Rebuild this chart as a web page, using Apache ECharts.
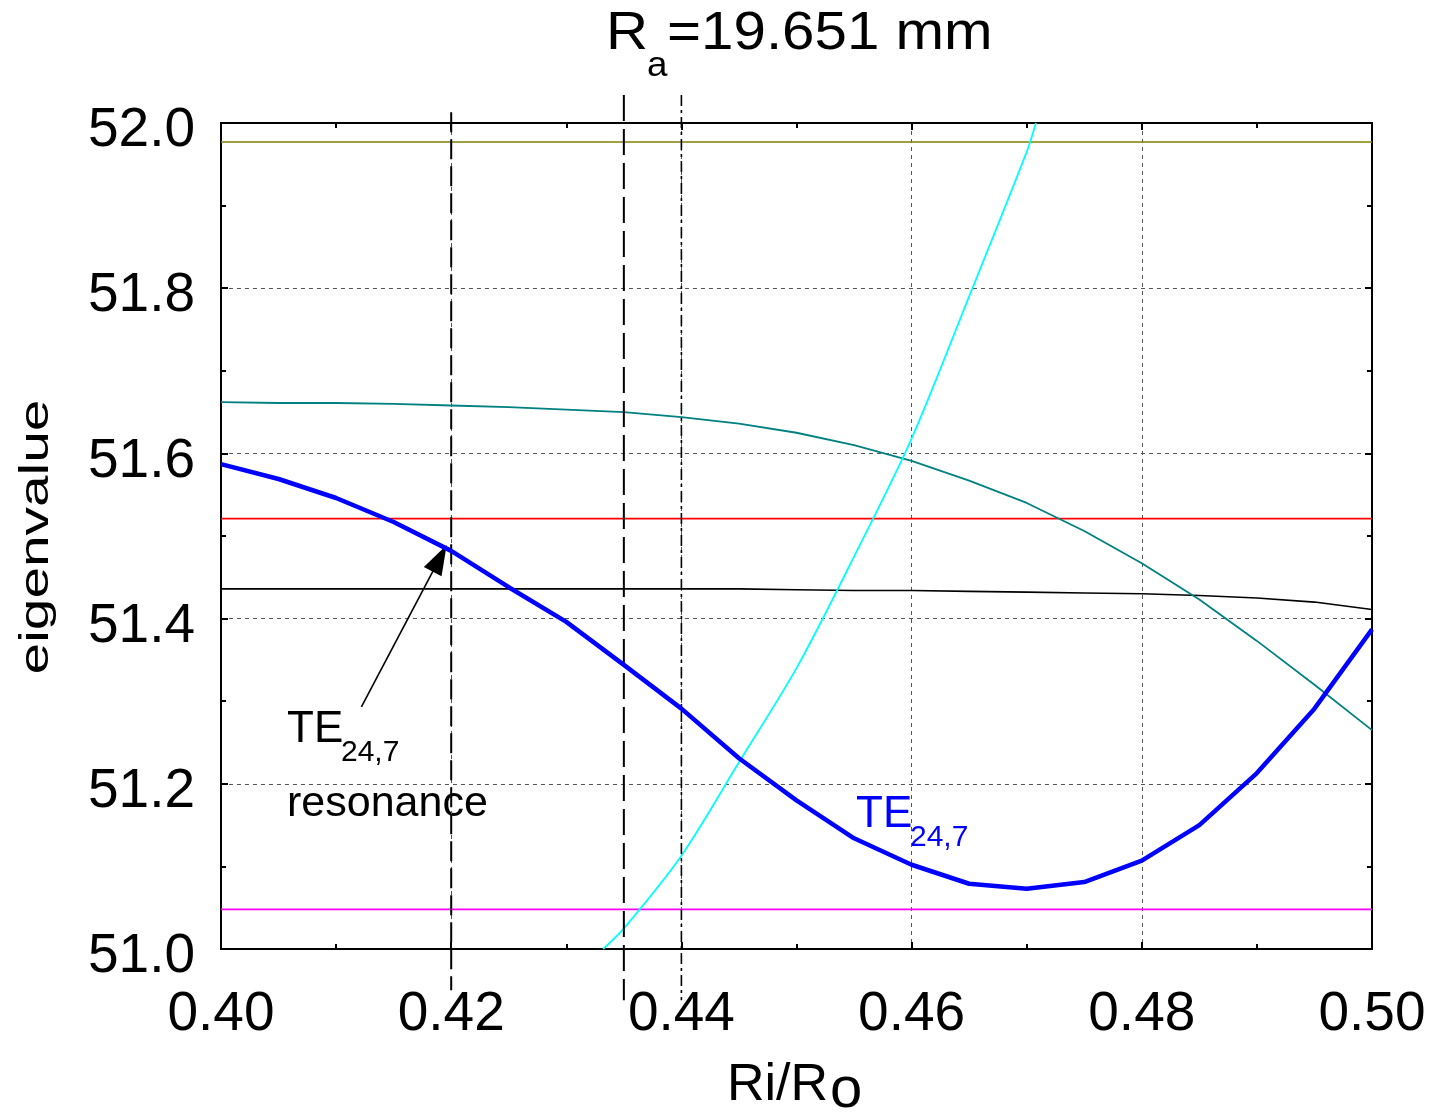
<!DOCTYPE html>
<html>
<head>
<meta charset="utf-8">
<script src="https://cdn.jsdelivr.net/npm/echarts@6/dist/echarts.min.js"></script>
<style>
html,body{margin:0;padding:0;background:#fff;}
#chart{width:1435px;height:1114px;}
</style>
</head>
<body>
<div id="chart"></div>
<script>
// ---- data ----
const xs = [0.400,0.405,0.410,0.415,0.420,0.425,0.430,0.435,0.440,0.445,0.450,0.455,0.460,0.465,0.470,0.475,0.480,0.485,0.490,0.495,0.500];
const blueTE = [51.587,51.569,51.546,51.517,51.482,51.438,51.396,51.344,51.291,51.231,51.180,51.134,51.102,51.079,51.073,51.081,51.107,51.150,51.213,51.291,51.387];
const tealMode = [51.662,51.661,51.661,51.660,51.658,51.656,51.653,51.650,51.644,51.636,51.625,51.610,51.591,51.567,51.540,51.506,51.467,51.423,51.373,51.320,51.265];
const blackMode = [51.436,51.436,51.436,51.436,51.436,51.436,51.436,51.436,51.436,51.436,51.435,51.434,51.434,51.433,51.432,51.431,51.430,51.428,51.425,51.420,51.411];
const cyanX = [0.4332,0.435,0.440,0.445,0.450,0.455,0.460,0.465,0.470,0.4708];
const cyanY = [51.000,51.025,51.113,51.226,51.340,51.475,51.618,51.790,51.965,52.000];
const oliveLevel = 51.977;
const redLevel = 51.521;
const magentaLevel = 51.048;
const markerX = [0.42, 0.435, 0.44];
const markerTop = [52.013, 52.034, 52.034];
const markerBottom = [50.950, 50.938, 50.938];
const arrowFrom = [0.4122, 51.293];
const arrowTo = [0.4190, 51.473];
const xMin = 0.40, xMax = 0.50, xStep = 0.02;
const yMin = 51.0, yMax = 52.0, yStep = 0.2;

const FONT = '"Liberation Sans", Arial, Helvetica, sans-serif';
const chart = echarts.init(document.getElementById('chart'), null, {renderer:'canvas'});

function pairs(xa, ya){ return xa.map((x,i)=>[x, ya[i]]); }
function level(v){ return [[xMin, v],[xMax, v]]; }

const markerStyles = [
  {type:[20,7], width:2},
  {type:[26,8], width:2},
  {type:[11,4,3,4], width:1.6}
];

const series = [];
series.push({type:'line', data:level(oliveLevel), symbol:'none', lineStyle:{color:'#808000', width:1.6}, silent:true, z:2});
series.push({type:'line', data:level(redLevel), symbol:'none', lineStyle:{color:'#ff0000', width:1.6}, silent:true, z:2});
series.push({type:'line', data:level(magentaLevel), symbol:'none', lineStyle:{color:'#ff00ff', width:1.6}, silent:true, z:2});
series.push({type:'line', data:pairs(xs, blackMode), symbol:'none', lineStyle:{color:'#000000', width:1.6}, silent:true, z:3});
series.push({type:'line', data:pairs(xs, tealMode), symbol:'none', lineStyle:{color:'#008080', width:1.8}, silent:true, z:3});
series.push({type:'line', data:pairs(cyanX, cyanY), symbol:'none', smooth:0.3, lineStyle:{color:'#00ffff', width:1.8}, silent:true, z:3});
markerX.forEach((x,i)=>{
  series.push({type:'line', data:[[x, markerTop[i]],[x, markerBottom[i]]], symbol:'none', clip:false,
    lineStyle:{color:'#000', width:markerStyles[i].width, type:markerStyles[i].type}, silent:true, z:4});
});
series.push({type:'line', data:pairs(xs, blueTE), symbol:'none', lineStyle:{color:'#0000ff', width:4.5}, silent:true, z:6,
  markLine:{silent:true, symbol:['none','triangle'], symbolSize:[20,30], label:{show:false},
    lineStyle:{color:'#000', width:1.6, type:'solid'},
    data:[[{coord:arrowFrom},{coord:arrowTo}]]}
});

const tickLabel = {color:'#000', fontSize:55, fontFamily:FONT};
const option = {
  animation:false,
  backgroundColor:'#fff',
  grid:{left:221, right:63, top:123, bottom:165, show:true, borderColor:'#000', borderWidth:2, backgroundColor:'transparent'},
  xAxis:[{
    type:'value', min:xMin, max:xMax, interval:xStep, position:'bottom',
    axisLine:{show:true, lineStyle:{color:'#000', width:2}},
    axisTick:{show:true, inside:true, length:7, lineStyle:{color:'#000', width:2}},
    minorTick:{show:true, splitNumber:2, length:5, lineStyle:{color:'#000', width:2}},
    axisLabel:Object.assign({margin:38, formatter:v=>v.toFixed(2)}, tickLabel),
    splitLine:{show:true, lineStyle:{color:'#555', width:1, type:[4,4]}}
  },{
    type:'value', min:xMin, max:xMax, interval:xStep, position:'top',
    axisLine:{show:true, lineStyle:{color:'#000', width:2}},
    axisTick:{show:true, inside:true, length:7, lineStyle:{color:'#000', width:2}},
    minorTick:{show:true, splitNumber:2, length:5, lineStyle:{color:'#000', width:2}},
    axisLabel:{show:false}, splitLine:{show:false}
  }],
  yAxis:[{
    type:'value', min:yMin, max:yMax, interval:yStep, position:'left',
    axisLine:{show:true, lineStyle:{color:'#000', width:2}},
    axisTick:{show:true, inside:true, length:7, lineStyle:{color:'#000', width:2}},
    minorTick:{show:true, splitNumber:2, length:5, lineStyle:{color:'#000', width:2}},
    axisLabel:Object.assign({margin:26, verticalAlign:'top', lineHeight:16, formatter:v=>v.toFixed(1)}, tickLabel),
    splitLine:{show:true, lineStyle:{color:'#555', width:1, type:[4,4]}}
  },{
    type:'value', min:yMin, max:yMax, interval:yStep, position:'right',
    axisLine:{show:true, lineStyle:{color:'#000', width:2}},
    axisTick:{show:true, inside:true, length:7, lineStyle:{color:'#000', width:2}},
    minorTick:{show:true, splitNumber:2, length:5, lineStyle:{color:'#000', width:2}},
    axisLabel:{show:false}, splitLine:{show:false}
  }],
  series:series,
  graphic:[
    // title
    {type:'text', x:606, y:34, scaleX:1.1, style:{text:'R', fontSize:53, fontFamily:FONT, fill:'#000', textAlign:'left', textVerticalAlign:'middle'}},
    {type:'text', x:647, y:66, scaleX:1.05, style:{text:'a', fontSize:35, fontFamily:FONT, fill:'#000', textAlign:'left', textVerticalAlign:'middle'}},
    {type:'text', x:667, y:34, scaleX:1.1, style:{text:'=19.651 mm', fontSize:53, fontFamily:FONT, fill:'#000', textAlign:'left', textVerticalAlign:'middle'}},
    // y axis name
    {type:'text', x:37, y:537, rotation:Math.PI/2, scaleX:1.42, style:{text:'eigenvalue', fontSize:40, fontFamily:FONT, fill:'#000', textAlign:'center', textVerticalAlign:'middle'}},
    // x axis name
    {type:'text', x:727, y:1086, style:{text:'Ri/R', fontSize:52, fontFamily:FONT, fill:'#000', textAlign:'left', textVerticalAlign:'middle'}},
    {type:'text', x:830, y:1091, style:{text:'o', fontSize:58, fontFamily:FONT, fill:'#000', textAlign:'left', textVerticalAlign:'middle'}},
    // resonance annotation
    {type:'text', x:287, y:730, style:{text:'TE', fontSize:44, fontFamily:FONT, fill:'#000', textAlign:'left', textVerticalAlign:'middle'}},
    {type:'text', x:341, y:753, style:{text:'24,7', fontSize:30, fontFamily:FONT, fill:'#000', textAlign:'left', textVerticalAlign:'middle'}},
    {type:'text', x:287, y:804, style:{text:'resonance', fontSize:43, fontFamily:FONT, fill:'#000', textAlign:'left', textVerticalAlign:'middle'}},
    // blue label
    {type:'text', x:856, y:815, style:{text:'TE', fontSize:44, fontFamily:FONT, fill:'#0000ff', textAlign:'left', textVerticalAlign:'middle'}},
    {type:'text', x:910, y:838, style:{text:'24,7', fontSize:30, fontFamily:FONT, fill:'#0000ff', textAlign:'left', textVerticalAlign:'middle'}}
  ]
};
chart.setOption(option);
</script>
</body>
</html>
